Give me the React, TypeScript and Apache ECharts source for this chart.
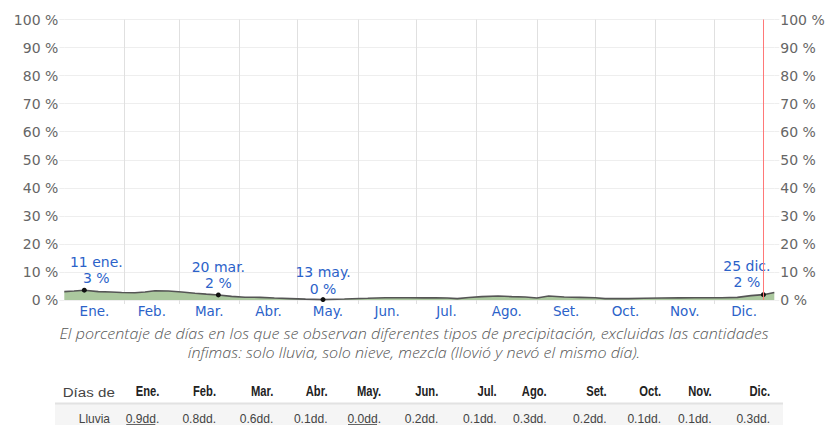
import React, { useEffect, useRef } from 'react';
import * as echarts from 'echarts';

const monthNames = ['Ene.', 'Feb.', 'Mar.', 'Abr.', 'May.', 'Jun.', 'Jul.', 'Ago.', 'Set.', 'Oct.', 'Nov.', 'Dic.'];
const monthStarts = [0, 31, 59, 90, 120, 151, 181, 212, 243, 273, 304, 334, 365];

const curveDays = [0, 5, 10.3, 17.5, 24, 29.5, 36.3, 41.5, 46.6, 53.5, 60.4, 67.2, 73, 79.2, 86, 92.9, 100.6, 108, 116, 124, 133, 144, 156, 165, 177, 185, 191, 197, 202, 208, 214.6, 223, 230, 237, 243, 249, 257, 265, 273, 278, 290, 298, 307, 316, 324, 338, 346, 353, 359.4, 365];
const curveValues = [3.0, 3.2, 3.5, 3.0, 2.85, 2.7, 2.6, 2.85, 3.3, 3.2, 2.85, 2.4, 2.1, 1.8, 1.3, 1.0, 0.95, 0.7, 0.5, 0.3, 0.15, 0.35, 0.6, 0.8, 0.8, 0.75, 0.8, 0.7, 0.5, 0.9, 1.2, 1.4, 1.2, 1.05, 0.7, 1.4, 1.05, 0.95, 0.8, 0.5, 0.5, 0.6, 0.7, 0.75, 0.8, 0.8, 0.95, 1.55, 1.9, 2.7];

const highlightDays = [10.3, 79.2, 133, 359.4];
const highlightValues = [3.5, 1.8, 0.15, 1.9];
const highlightDates = ['11 ene.', '20 mar.', '13 may.', '25 dic.'];
const highlightPct = [3, 2, 0, 2];
const highlightOffsets = [[12, -20], [0, -20], [0, -19], [-16.5, -20.5]];
const todayDay = 359.45;

const tableMonths = ['Ene.', 'Feb.', 'Mar.', 'Abr.', 'May.', 'Jun.', 'Jul.', 'Ago.', 'Set.', 'Oct.', 'Nov.', 'Dic.'];
const rainDays = [0.9, 0.8, 0.6, 0.1, 0.0, 0.2, 0.1, 0.3, 0.2, 0.1, 0.1, 0.3];
const colRight = [159.3, 216, 273.3, 327.5, 381, 438.3, 496.7, 546.7, 606.7, 661, 711.7, 770];

const captionLines = [
  'El porcentaje de días en los que se observan diferentes tipos de precipitación, excluidas las cantidades',
  'ínfimas: solo lluvia, solo nieve, mezcla (llovió y nevó el mismo día).',
];

const BLUE = '#2b62c9';
const FONT = 'DejaVu Sans';
const RED = '#ff7878';

export default function App() {
  const ref = useRef<HTMLDivElement>(null);
  useEffect(() => {
    const chart = echarts.init(ref.current!, null, { renderer: 'svg' });
    const mids = monthStarts.slice(0, 12).map((s, i) => (s + monthStarts[i + 1]) / 2);
    const inner = monthStarts.slice(1, 12);

    const maxV = Math.max(...rainDays);
    const minV = Math.min(...rainDays);

    const graphics: any[] = [];
    captionLines.forEach((t, i) => {
      graphics.push({
        type: 'text', x: 414, y: 333 + i * 19, scaleX: 1.15,
        style: { text: t, align: 'center', verticalAlign: 'middle', fontFamily: 'Open Sans', fontStyle: 'italic', fontWeight: 300, fontSize: 14, fill: '#555' },
      });
    });
    graphics.push({ type: 'rect', shape: { x: 55, y: 404, width: 728, height: 30 }, style: { fill: '#f5f5f5' } });
    graphics.push({ type: 'line', shape: { x1: 55, y1: 403.5, x2: 783, y2: 403.5 }, style: { stroke: '#e2e2e2', lineWidth: 2 } });
    graphics.push({ type: 'text', x: 62.7, y: 392, scaleX: 1.12, style: { text: 'Días de', align: 'left', verticalAlign: 'middle', fontFamily: 'Liberation Sans', fontSize: 13.5, fill: '#444' } });
    graphics.push({ type: 'text', x: 110, y: 419, scaleX: 0.92, style: { text: 'Lluvia', align: 'right', verticalAlign: 'middle', fontFamily: 'Liberation Sans', fontSize: 13, fill: '#444' } });
    tableMonths.forEach((m, i) => {
      graphics.push({ type: 'text', x: colRight[i], y: 392, scaleX: 0.8, style: { text: m, align: 'right', verticalAlign: 'middle', fontFamily: 'Liberation Sans', fontWeight: 'bold', fontSize: 14, fill: '#222' } });
      graphics.push({ type: 'text', x: colRight[i], y: 419, scaleX: 0.93, style: { text: rainDays[i].toFixed(1) + 'dd.', align: 'right', verticalAlign: 'middle', fontFamily: 'Liberation Sans', fontSize: 13, fill: '#444' } });
      if (rainDays[i] === maxV || (rainDays[i] === minV && rainDays.indexOf(minV) === i)) {
        graphics.push({ type: 'line', shape: { x1: colRight[i] - 33, y1: 424.5, x2: colRight[i] - 4, y2: 424.5 }, style: { stroke: '#666', lineWidth: 1 } });
      }
    });

    const option: any = {
      animation: false,
      color: ['#555', RED],
      grid: { left: 64.3, right: 53.7, top: 19.5, bottom: 125, containLabel: false },
      xAxis: {
        type: 'value', min: 0, max: 365,
        axisLine: { show: false },
        axisTick: { show: true, customValues: inner, length: 4, lineStyle: { color: '#e0e0e0' } },
        splitLine: { show: true, lineStyle: { color: '#e0e0e0', width: 1 } },
        axisLabel: {
          customValues: mids, margin: 4, color: BLUE, fontFamily: FONT, fontSize: 13.5,
          formatter: (v: number) => monthNames[mids.findIndex((m) => Math.abs(m - v) < 0.01)],
        },
      },
      yAxis: [
        {
          type: 'value', min: 0, max: 100, interval: 10, position: 'left',
          axisLine: { show: false },
          axisTick: { show: true, length: 5, lineStyle: { color: '#eeeeee' } },
          splitLine: { show: true, lineStyle: { color: '#eeeeee' } },
          axisLabel: { formatter: '{value} %', margin: 6, color: '#666', fontFamily: FONT, fontSize: 14 },
        },
        {
          type: 'value', min: 0, max: 100, interval: 10, position: 'right',
          axisLine: { show: false },
          axisTick: { show: true, length: 5, lineStyle: { color: '#eeeeee' } },
          splitLine: { show: false },
          axisLabel: { formatter: '{value} %', margin: 6, color: '#666', fontFamily: FONT, fontSize: 14 },
        },
      ],
      series: [
        {
          type: 'line',
          data: curveDays.map((d, i) => [d, curveValues[i]]),
          symbol: 'none',
          color: '#555',
          lineStyle: { color: '#555', width: 1.6 },
          areaStyle: { color: '#abc89e', opacity: 1 },
          silent: true,
          z: 2,
          markPoint: {
            silent: true, animation: false,
            symbol: 'circle', symbolSize: 5,
            itemStyle: { color: '#111' },
            data: highlightDays.map((d, i) => ({
              coord: [d, highlightValues[i]],
              label: {
                show: true, position: 'inside', offset: highlightOffsets[i],
                formatter: highlightDates[i] + '\n' + highlightPct[i] + ' %',
                color: BLUE, fontFamily: FONT, fontSize: 14, lineHeight: 16.5, align: 'center',
              },
            })),
          },
        },
        {
          type: 'line',
          name: 'hoy',
          data: [[todayDay, 0], [todayDay, 100]],
          symbol: 'none',
          silent: true,
          color: RED,
          z: 5,
          lineStyle: { color: RED, width: 1, opacity: 1 },
          emphasis: { disabled: true },
        },
      ],
      graphic: graphics,
    };
    chart.setOption(option);
    return () => chart.dispose();
  }, []);
  return <div ref={ref} style={{ position: 'fixed', left: 0, top: 0, width: 828, height: 425, background: '#fff' }} />;
}
